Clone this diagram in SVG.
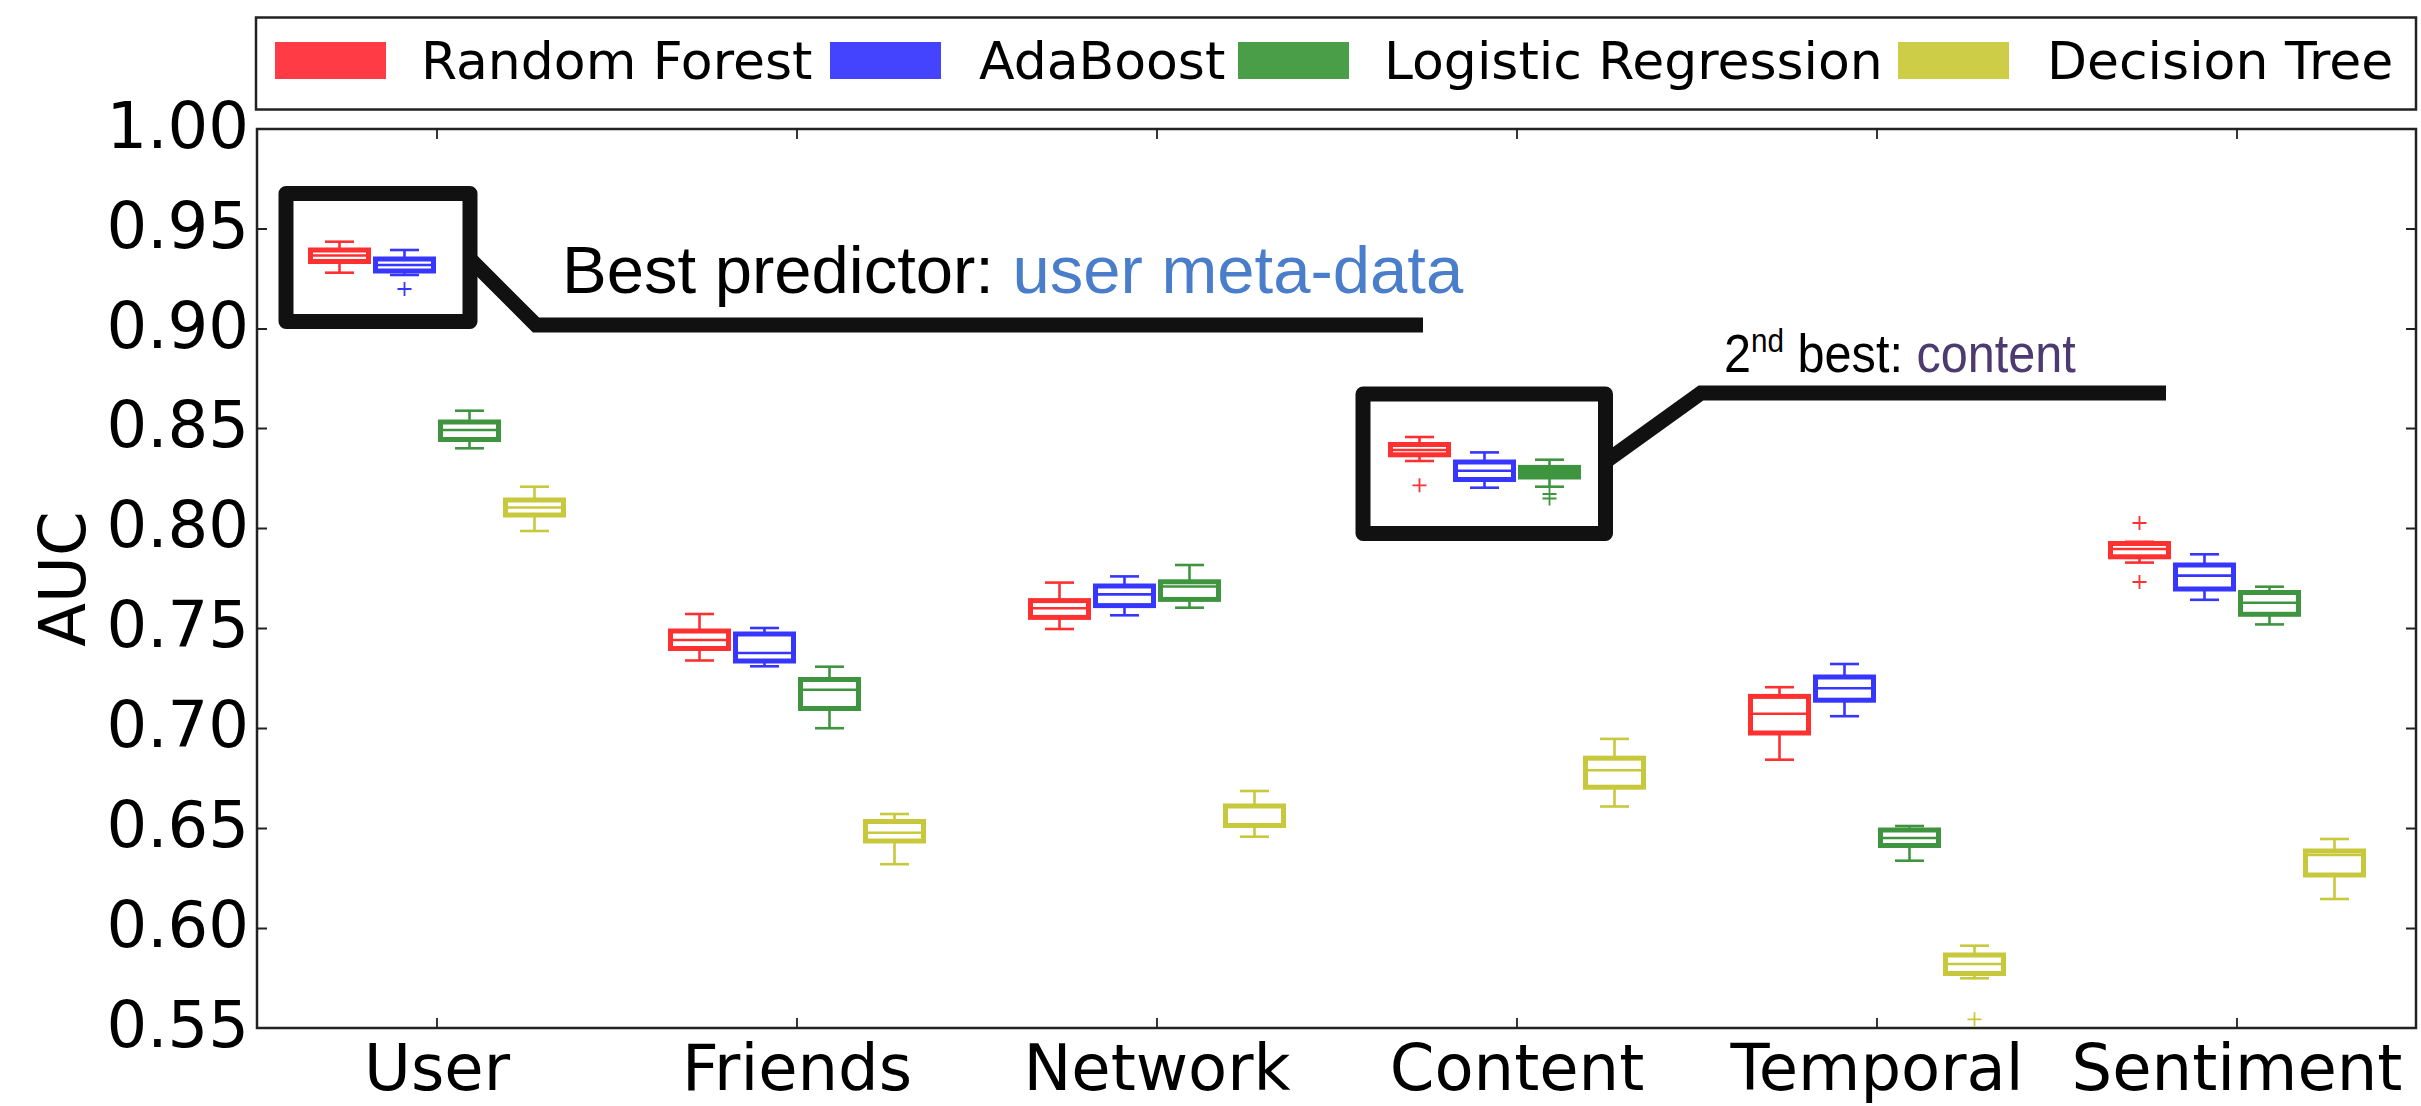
<svg xmlns="http://www.w3.org/2000/svg" width="2421" height="1106" viewBox="0 0 2421 1106">
<style>
.tk{font-family:"DejaVu Sans",sans-serif;font-size:64px;fill:#000}
.lg{font-family:"DejaVu Sans",sans-serif;font-size:52px;fill:#000}
.an{font-family:"Liberation Sans",Arial,sans-serif;fill:#000}
.bp line,.bp rect,.bp path{fill:none;stroke-linecap:butt}
.bp line{stroke-width:2.6}
.bp rect{stroke-width:5}
.bp path{stroke-width:1.8}
.r{stroke:#ff3030}
.b{stroke:#3636ff}
.g{stroke:#3f953f}
.y{stroke:#c8c83c}
.frame{fill:none;stroke:#222;stroke-width:2.5}
.tick{stroke:#222;stroke-width:1.8}
.call{fill:none;stroke:#111;stroke-width:15}
</style>
<rect width="2421" height="1106" fill="#fff"/>

<g id="legend">
<rect x="256" y="17.5" width="2160" height="92" fill="#fff" stroke="#222" stroke-width="2.5"/>
<rect x="275" y="42" width="111" height="37" fill="#ff3c46"/>
<text class="lg" x="421" y="78.5">Random Forest</text>
<rect x="830" y="42" width="111" height="37" fill="#4444ff"/>
<text class="lg" x="979" y="78.5">AdaBoost</text>
<rect x="1238" y="42" width="111" height="37" fill="#4b9e48"/>
<text class="lg" x="1384" y="78.5">Logistic Regression</text>
<rect x="1898" y="42" width="111" height="37" fill="#cdcd48"/>
<text class="lg" x="2047" y="78.5">Decision Tree</text>
</g>

<g id="axes">
<rect class="frame" x="257" y="129" width="2159" height="899"/>
<path class="tick" d="M257 129h10M257 229h10M257 329h10M257 428.5h10M257 528.5h10M257 628.5h10M257 728.5h10M257 828.5h10M257 928.5h10M257 1028h10
M2416 229h-10M2416 329h-10M2416 428.5h-10M2416 528.5h-10M2416 628.5h-10M2416 728.5h-10M2416 828.5h-10M2416 928.5h-10
M437 129v10M797 129v10M1157 129v10M1517 129v10M1877 129v10M2237 129v10
M437 1028v-10M797 1028v-10M1157 1028v-10M1517 1028v-10M1877 1028v-10M2237 1028v-10"/>
<g text-anchor="end">
<text class="tk" x="249" y="147.5">1.00</text>
<text class="tk" x="249" y="247.5">0.95</text>
<text class="tk" x="249" y="347.5">0.90</text>
<text class="tk" x="249" y="447">0.85</text>
<text class="tk" x="249" y="547">0.80</text>
<text class="tk" x="249" y="647">0.75</text>
<text class="tk" x="249" y="747">0.70</text>
<text class="tk" x="249" y="847">0.65</text>
<text class="tk" x="249" y="947">0.60</text>
<text class="tk" x="249" y="1046.5">0.55</text>
</g>
<g text-anchor="middle">
<text class="tk" x="437" y="1090">User</text>
<text class="tk" x="797" y="1090">Friends</text>
<text class="tk" x="1157" y="1090">Network</text>
<text class="tk" x="1517" y="1090">Content</text>
<text class="tk" x="1877" y="1090">Temporal</text>
<text class="tk" x="2237" y="1090">Sentiment</text>
<text class="tk" transform="translate(84.5 579) rotate(-90)">AUC</text>
</g>
</g>

<g id="user-rf" class="bp r"><line x1="339.5" y1="241.7" x2="339.5" y2="250"/><line x1="339.5" y1="261.5" x2="339.5" y2="272.7"/><line x1="325" y1="241.7" x2="354" y2="241.7"/><line x1="325" y1="272.7" x2="354" y2="272.7"/><rect x="310.5" y="250" width="58" height="11.5"/><line x1="310.5" y1="255.5" x2="368.5" y2="255.5"/></g>
<g id="user-ada" class="bp b"><line x1="404.5" y1="250" x2="404.5" y2="259"/><line x1="404.5" y1="271" x2="404.5" y2="275"/><line x1="390" y1="250" x2="419" y2="250"/><line x1="390" y1="275" x2="419" y2="275"/><rect x="375.5" y="259" width="58" height="12"/><line x1="375.5" y1="265" x2="433.5" y2="265"/><path d="M397.5 289h14M404.5 282v14"/></g>
<g id="user-lr" class="bp g"><line x1="469.5" y1="410.7" x2="469.5" y2="422"/><line x1="469.5" y1="439.5" x2="469.5" y2="448.3"/><line x1="455" y1="410.7" x2="484" y2="410.7"/><line x1="455" y1="448.3" x2="484" y2="448.3"/><rect x="440.5" y="422" width="58" height="17.5"/><line x1="440.5" y1="430" x2="498.5" y2="430"/></g>
<g id="user-dt" class="bp y"><line x1="534.5" y1="486.7" x2="534.5" y2="500"/><line x1="534.5" y1="515" x2="534.5" y2="531"/><line x1="520" y1="486.7" x2="549" y2="486.7"/><line x1="520" y1="531" x2="549" y2="531"/><rect x="505.5" y="500" width="58" height="15"/><line x1="505.5" y1="507.5" x2="563.5" y2="507.5"/></g>

<g id="friends-rf" class="bp r"><line x1="699.5" y1="614" x2="699.5" y2="631"/><line x1="699.5" y1="648.5" x2="699.5" y2="660.5"/><line x1="685" y1="614" x2="714" y2="614"/><line x1="685" y1="660.5" x2="714" y2="660.5"/><rect x="670.5" y="631" width="58" height="17.5"/><line x1="670.5" y1="640" x2="728.5" y2="640"/></g>
<g id="friends-ada" class="bp b"><line x1="764.5" y1="628" x2="764.5" y2="634"/><line x1="764.5" y1="661" x2="764.5" y2="666.3"/><line x1="750" y1="628" x2="779" y2="628"/><line x1="750" y1="666.3" x2="779" y2="666.3"/><rect x="735.5" y="634" width="58" height="27"/><line x1="735.5" y1="653" x2="793.5" y2="653"/></g>
<g id="friends-lr" class="bp g"><line x1="829.5" y1="666.7" x2="829.5" y2="679.5"/><line x1="829.5" y1="708.5" x2="829.5" y2="728.2"/><line x1="815" y1="666.7" x2="844" y2="666.7"/><line x1="815" y1="728.2" x2="844" y2="728.2"/><rect x="800.5" y="679.5" width="58" height="29"/><line x1="800.5" y1="689.7" x2="858.5" y2="689.7"/></g>
<g id="friends-dt" class="bp y"><line x1="894.5" y1="814" x2="894.5" y2="821.5"/><line x1="894.5" y1="841" x2="894.5" y2="864.2"/><line x1="880" y1="814" x2="909" y2="814"/><line x1="880" y1="864.2" x2="909" y2="864.2"/><rect x="865.5" y="821.5" width="58" height="19.5"/><line x1="865.5" y1="832.8" x2="923.5" y2="832.8"/></g>

<g id="network-rf" class="bp r"><line x1="1059.5" y1="582.6" x2="1059.5" y2="600.6"/><line x1="1059.5" y1="617.4" x2="1059.5" y2="629"/><line x1="1045" y1="582.6" x2="1074" y2="582.6"/><line x1="1045" y1="629" x2="1074" y2="629"/><rect x="1030.5" y="600.6" width="58" height="16.8"/><line x1="1030.5" y1="608.2" x2="1088.5" y2="608.2"/></g>
<g id="network-ada" class="bp b"><line x1="1124.5" y1="576.4" x2="1124.5" y2="586"/><line x1="1124.5" y1="605.6" x2="1124.5" y2="615.3"/><line x1="1110" y1="576.4" x2="1139" y2="576.4"/><line x1="1110" y1="615.3" x2="1139" y2="615.3"/><rect x="1095.5" y="586" width="58" height="19.6"/><line x1="1095.5" y1="594.4" x2="1153.5" y2="594.4"/></g>
<g id="network-lr" class="bp g"><line x1="1189.5" y1="565" x2="1189.5" y2="581.8"/><line x1="1189.5" y1="599.4" x2="1189.5" y2="607.7"/><line x1="1175" y1="565" x2="1204" y2="565"/><line x1="1175" y1="607.7" x2="1204" y2="607.7"/><rect x="1160.5" y="581.8" width="58" height="17.6"/><line x1="1160.5" y1="586.5" x2="1218.5" y2="586.5"/></g>
<g id="network-dt" class="bp y"><line x1="1254.5" y1="791" x2="1254.5" y2="806"/><line x1="1254.5" y1="825.5" x2="1254.5" y2="836.7"/><line x1="1240" y1="791" x2="1269" y2="791"/><line x1="1240" y1="836.7" x2="1269" y2="836.7"/><rect x="1225.5" y="806" width="58" height="19.5"/></g>

<g id="content-rf" class="bp r"><line x1="1419.5" y1="437" x2="1419.5" y2="444.5"/><line x1="1419.5" y1="454.8" x2="1419.5" y2="461"/><line x1="1405" y1="437" x2="1434" y2="437"/><line x1="1405" y1="461" x2="1434" y2="461"/><rect x="1390.5" y="444.5" width="58" height="10.3"/><line x1="1390.5" y1="450" x2="1448.5" y2="450"/><path d="M1412.5 485.3h14M1419.5 478.3v14"/></g>
<g id="content-ada" class="bp b"><line x1="1484.5" y1="452.4" x2="1484.5" y2="462"/><line x1="1484.5" y1="479.5" x2="1484.5" y2="487.7"/><line x1="1470" y1="452.4" x2="1499" y2="452.4"/><line x1="1470" y1="487.7" x2="1499" y2="487.7"/><rect x="1455.5" y="462" width="58" height="17.5"/><line x1="1455.5" y1="470.8" x2="1513.5" y2="470.8"/></g>
<g id="content-lr" class="bp g"><line x1="1549.5" y1="459.7" x2="1549.5" y2="467.4"/><line x1="1549.5" y1="477" x2="1549.5" y2="486.7"/><line x1="1535" y1="459.7" x2="1564" y2="459.7"/><line x1="1535" y1="486.7" x2="1564" y2="486.7"/><rect x="1520.5" y="467.4" width="58" height="9.6" style="fill:#3f953f"/><line x1="1520.5" y1="471.7" x2="1578.5" y2="471.7"/><path d="M1542.5 494h14M1549.5 487v14M1542.5 498.5h14M1549.5 491.5v14"/></g>
<g id="content-dt" class="bp y"><line x1="1614.5" y1="738.9" x2="1614.5" y2="758.2"/><line x1="1614.5" y1="787.2" x2="1614.5" y2="806.5"/><line x1="1600" y1="738.9" x2="1629" y2="738.9"/><line x1="1600" y1="806.5" x2="1629" y2="806.5"/><rect x="1585.5" y="758.2" width="58" height="29"/><line x1="1585.5" y1="770.3" x2="1643.5" y2="770.3"/></g>

<g id="temporal-rf" class="bp r"><line x1="1779.5" y1="687.2" x2="1779.5" y2="696.4"/><line x1="1779.5" y1="733" x2="1779.5" y2="759.7"/><line x1="1765" y1="687.2" x2="1794" y2="687.2"/><line x1="1765" y1="759.7" x2="1794" y2="759.7"/><rect x="1750.5" y="696.4" width="58" height="36.6"/><line x1="1750.5" y1="713.8" x2="1808.5" y2="713.8"/></g>
<g id="temporal-ada" class="bp b"><line x1="1844.5" y1="664" x2="1844.5" y2="677"/><line x1="1844.5" y1="700.2" x2="1844.5" y2="716.2"/><line x1="1830" y1="664" x2="1859" y2="664"/><line x1="1830" y1="716.2" x2="1859" y2="716.2"/><rect x="1815.5" y="677" width="58" height="23.2"/><line x1="1815.5" y1="688.2" x2="1873.5" y2="688.2"/></g>
<g id="temporal-lr" class="bp g"><line x1="1909.5" y1="826" x2="1909.5" y2="830"/><line x1="1909.5" y1="845.5" x2="1909.5" y2="860.7"/><line x1="1895" y1="826" x2="1924" y2="826"/><line x1="1895" y1="860.7" x2="1924" y2="860.7"/><rect x="1880.5" y="830" width="58" height="15.5"/><line x1="1880.5" y1="838" x2="1938.5" y2="838"/></g>
<g id="temporal-dt" class="bp y"><line x1="1974.5" y1="945.7" x2="1974.5" y2="955"/><line x1="1974.5" y1="973.5" x2="1974.5" y2="978.3"/><line x1="1960" y1="945.7" x2="1989" y2="945.7"/><line x1="1960" y1="978.3" x2="1989" y2="978.3"/><rect x="1945.5" y="955" width="58" height="18.5"/><line x1="1945.5" y1="964" x2="2003.5" y2="964"/><path d="M1967.5 1019.3h14M1974.5 1012.3v14"/></g>

<g id="sentiment-rf" class="bp r"><line x1="2139.5" y1="556.8" x2="2139.5" y2="562.6"/><line x1="2125" y1="541.8" x2="2154" y2="541.8"/><line x1="2125" y1="562.6" x2="2154" y2="562.6"/><rect x="2110.5" y="543.5" width="58" height="13.3"/><line x1="2110.5" y1="549" x2="2168.5" y2="549"/><path d="M2132.5 523h14M2139.5 516v14M2132.5 582h14M2139.5 575v14"/></g>
<g id="sentiment-ada" class="bp b"><line x1="2204.5" y1="554.3" x2="2204.5" y2="565"/><line x1="2204.5" y1="589" x2="2204.5" y2="599.8"/><line x1="2190" y1="554.3" x2="2219" y2="554.3"/><line x1="2190" y1="599.8" x2="2219" y2="599.8"/><rect x="2175.5" y="565" width="58" height="24"/><line x1="2175.5" y1="575.6" x2="2233.5" y2="575.6"/></g>
<g id="sentiment-lr" class="bp g"><line x1="2269.5" y1="586.7" x2="2269.5" y2="592.5"/><line x1="2269.5" y1="614.3" x2="2269.5" y2="624.4"/><line x1="2255" y1="586.7" x2="2284" y2="586.7"/><line x1="2255" y1="624.4" x2="2284" y2="624.4"/><rect x="2240.5" y="592.5" width="58" height="21.8"/><line x1="2240.5" y1="602.7" x2="2298.5" y2="602.7"/></g>
<g id="sentiment-dt" class="bp y"><line x1="2334.5" y1="839" x2="2334.5" y2="851"/><line x1="2334.5" y1="875" x2="2334.5" y2="899"/><line x1="2320" y1="839" x2="2349" y2="839"/><line x1="2320" y1="899" x2="2349" y2="899"/><rect x="2305.5" y="851" width="58" height="24"/><line x1="2305.5" y1="855" x2="2363.5" y2="855"/></g>

<g id="callout-best">
<rect class="call" x="286" y="193.5" width="184" height="128" stroke-linejoin="round"/>
<text class="an" x="562" y="293" font-size="67">Best predictor: <tspan fill="#4a7ecb">user meta-data</tspan></text>
</g>
<g id="callout-second">
<rect class="call" x="1363" y="394" width="242.5" height="139.5" stroke-linejoin="round"/>
<text class="an" transform="translate(1724 372) scale(0.9 1)" font-size="54">2<tspan font-size="33" dy="-20">nd</tspan><tspan dy="20"> best: </tspan><tspan fill="#4d3b70">content</tspan></text>
</g>
<g id="connectors">
<polyline class="call" points="470,259 536,325 1423,325"/>
<polyline class="call" points="1605,462 1701,393 2166,393"/>
</g>
</svg>
